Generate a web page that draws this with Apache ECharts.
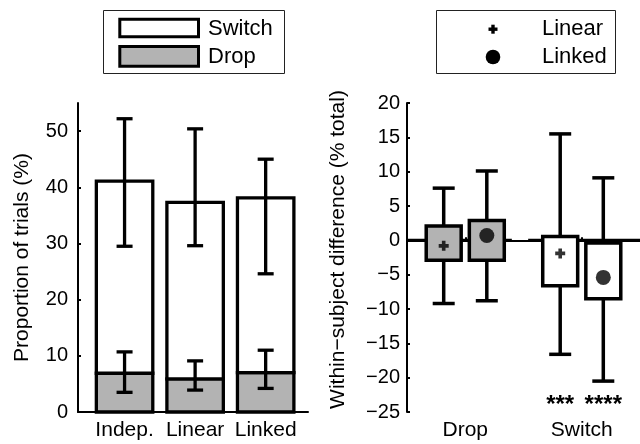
<!DOCTYPE html>
<html>
<head>
<meta charset="utf-8">
<script src="https://cdn.jsdelivr.net/npm/echarts@6/dist/echarts.min.js"></script>
<style>
  html, body { margin: 0; padding: 0; background: #fff; }
  #chart { width: 640px; height: 444px; }
</style>
</head>
<body>
<div id="chart"></div>
<script>
// ---------- Left panel data (proportion of trials, %) ----------
const conditions = ['Indep.', 'Linear', 'Linked'];
const dropMean = [6.9, 5.9, 7.0];
const switchMean = [34.2, 31.4, 31.1];      // stacked on top of drop
const dropErrLow = [3.5, 3.9, 4.2];
const dropErrHigh = [10.7, 9.1, 11.0];
const totalErrLow = [29.5, 29.6, 24.6];
const totalErrHigh = [52.2, 50.4, 45.0];
const leftYTicks = [0, 10, 20, 30, 40, 50];

// ---------- Right panel data (within-subject difference, % total) ----------
const diffGroups = ['Drop', 'Switch'];
const diffModels = ['Linear', 'Linked'];
const linearWhiskerLow = [-9.2, -16.6];
const linearBoxLow = [-2.9, -6.6];
const linearBoxHigh = [2.1, 0.55];
const linearWhiskerHigh = [7.6, 15.5];
const linearMarker = [-0.8, -1.9];
const linkedWhiskerLow = [-8.8, -20.5];
const linkedBoxLow = [-2.9, -8.5];
const linkedBoxHigh = [2.9, -0.4];
const linkedWhiskerHigh = [10.1, 9.1];
const linkedMarker = [0.7, -5.4];
const linearSig = ['', '***'];
const linkedSig = ['', '****'];
const zeroLineSpans = [[0.5, 1.4], [1.54, 2.5]];
const rightYTicks = [-25, -20, -15, -10, -5, 0, 5, 10, 15, 20];

// ---------- styling ----------
const FONT = 'Liberation Sans, Arial, Helvetica, sans-serif';
const GREY = '#b3b3b3';
const BLACK = '#000';
const groupFill = [GREY, '#ffffff'];
const BAR_HALF = 0.4;
const BOX_OFFSET = 0.185;
const BOX_HALF = 0.15;

const chart = echarts.init(document.getElementById('chart'), null, { renderer: 'canvas' });

function barSeries(name, values, base, fill) {
  return {
    name: name,
    type: 'custom',
    xAxisIndex: 0, yAxisIndex: 0,
    encode: { x: 0, y: [1, 2] },
    data: values.map((v, i) => [i + 1, base[i], base[i] + v]),
    renderItem: function (params, api) {
      const x = api.value(0);
      const p0 = api.coord([x - BAR_HALF, api.value(2)]);
      const p1 = api.coord([x + BAR_HALF, api.value(1)]);
      return {
        type: 'rect',
        shape: { x: p0[0], y: p0[1], width: p1[0] - p0[0], height: p1[1] - p0[1] },
        style: { fill: fill, stroke: BLACK, lineWidth: 3.3 }
      };
    },
    z: 2
  };
}

function errSeries(name, lows, highs) {
  return {
    name: name,
    type: 'custom',
    xAxisIndex: 0, yAxisIndex: 0,
    encode: { x: 0, y: [1, 2] },
    data: lows.map((v, i) => [i + 1, v, highs[i]]),
    renderItem: function (params, api) {
      const x = api.value(0);
      const lo = api.coord([x, api.value(1)]);
      const hi = api.coord([x, api.value(2)]);
      const cap = 8;
      const st = { stroke: BLACK, lineWidth: 3.3 };
      return {
        type: 'group',
        children: [
          { type: 'line', shape: { x1: lo[0], y1: lo[1], x2: hi[0], y2: hi[1] }, style: st },
          { type: 'line', shape: { x1: lo[0] - cap, y1: lo[1], x2: lo[0] + cap, y2: lo[1] }, style: st },
          { type: 'line', shape: { x1: hi[0] - cap, y1: hi[1], x2: hi[0] + cap, y2: hi[1] }, style: st }
        ]
      };
    },
    z: 3
  };
}

function boxSeries(name, offset, wLow, bLow, bHigh, wHigh, sig) {
  return {
    name: name,
    type: 'custom',
    xAxisIndex: 1, yAxisIndex: 1,
    encode: { x: 0, y: [1, 2, 3, 4] },
    data: diffGroups.map((g, i) => [i + 1, wLow[i], bLow[i], bHigh[i], wHigh[i], i]),
    renderItem: function (params, api) {
      const x = api.value(0) + offset;
      const gi = api.value(5);
      const wl = api.coord([x, api.value(1)]);
      const wh = api.coord([x, api.value(4)]);
      const b0 = api.coord([x - BOX_HALF, api.value(3)]);
      const b1 = api.coord([x + BOX_HALF, api.value(2)]);
      const cap = 11;
      const st = { stroke: BLACK, lineWidth: 3.5 };
      const children = [
        { type: 'line', shape: { x1: wl[0], y1: wl[1], x2: wh[0], y2: wh[1] }, style: st },
        { type: 'line', shape: { x1: wl[0] - cap, y1: wl[1], x2: wl[0] + cap, y2: wl[1] }, style: st },
        { type: 'line', shape: { x1: wh[0] - cap, y1: wh[1], x2: wh[0] + cap, y2: wh[1] }, style: st },
        { type: 'rect', shape: { x: b0[0], y: b0[1], width: b1[0] - b0[0], height: b1[1] - b0[1] },
          style: { fill: groupFill[gi], stroke: BLACK, lineWidth: 3.5 } }
      ];
      if (sig[gi]) {
        const sp = api.coord([x, -23.3]);
        children.push({
          type: 'text',
          style: { text: sig[gi], x: sp[0], y: sp[1] + 5, align: 'center', verticalAlign: 'middle',
                   fontSize: 24, fontWeight: 'bold', fontFamily: FONT, fill: BLACK }
        });
      }
      return { type: 'group', children: children };
    },
    z: 3
  };
}

const plusPath = 'path://M3.2,0h3.6v3.2h3.2v3.6h-3.2v3.2h-3.6v-3.2h-3.2v-3.6h3.2z';

const option = {
  animation: false,
  backgroundColor: '#fff',
  textStyle: { fontFamily: FONT, color: BLACK },
  grid: [
    { left: 78, top: 103, width: 230, height: 309 },
    { left: 407, top: 103, width: 254, height: 309 }
  ],
  xAxis: [
    {
      gridIndex: 0, type: 'value', min: 0.34, max: 3.6,
      axisLine: { lineStyle: { color: BLACK, width: 2 } },
      axisTick: { show: false },
      splitLine: { show: false },
      axisLabel: {
        customValues: [1, 2, 3], margin: 8, fontSize: 21, color: BLACK, fontFamily: FONT,
        formatter: v => conditions[Math.round(v) - 1] || ''
      }
    },
    {
      gridIndex: 1, type: 'value', min: 0.5, max: 2.5,
      axisLine: { lineStyle: { color: BLACK, width: 2 } },
      axisTick: { customValues: [1, 2], inside: true, length: 3, lineStyle: { color: BLACK, width: 2 } },
      splitLine: { show: false },
      axisLabel: {
        customValues: [1, 2], margin: 8, fontSize: 21, color: BLACK, fontFamily: FONT,
        formatter: v => diffGroups[Math.round(v) - 1] || ''
      }
    }
  ],
  yAxis: [
    {
      gridIndex: 0, type: 'value', min: 0, max: 55,
      name: 'Proportion of trials (%)', nameLocation: 'middle', nameGap: 45,
      nameTextStyle: { fontSize: 21, color: BLACK, fontFamily: FONT },
      axisLine: { show: true, lineStyle: { color: BLACK, width: 2 } },
      axisTick: { customValues: leftYTicks, inside: true, length: 3, lineStyle: { color: BLACK, width: 2 } },
      splitLine: { show: false },
      axisLabel: { customValues: leftYTicks, margin: 10, fontSize: 20, color: BLACK, fontFamily: FONT }
    },
    {
      gridIndex: 1, type: 'value', min: -25, max: 20, interval: 5,
      name: 'Within\u2212subject difference (% total)', nameLocation: 'middle', nameGap: 58,
      nameTextStyle: { fontSize: 21, color: BLACK, fontFamily: FONT, padding: [0, 0, 0, 16] },
      axisLine: { show: true, lineStyle: { color: BLACK, width: 2 } },
      axisTick: { customValues: rightYTicks, inside: true, length: 3, lineStyle: { color: BLACK, width: 2 } },
      splitLine: { show: false },
      axisLabel: {
        customValues: rightYTicks, margin: 7, fontSize: 20, color: BLACK, fontFamily: FONT,
        formatter: v => String(v).replace('-', '\u2212')
      }
    }
  ],
  series: [
    barSeries('Drop', dropMean, [0, 0, 0], GREY),
    barSeries('Switch', switchMean, dropMean, '#ffffff'),
    errSeries('Drop error', dropErrLow, dropErrHigh),
    errSeries('Total error', totalErrLow, totalErrHigh),
    {
      name: 'Zero line',
      type: 'custom',
      xAxisIndex: 1, yAxisIndex: 1,
      data: zeroLineSpans.map(s => [s[0], s[1], 0]),
      renderItem: function (params, api) {
        const a = api.coord([api.value(0), api.value(2)]);
        const b = api.coord([api.value(1), api.value(2)]);
        return { type: 'line', shape: { x1: a[0], y1: a[1], x2: b[0], y2: b[1] },
                 style: { stroke: BLACK, lineWidth: 3.3 } };
      },
      z: 2
    },
    boxSeries('Linear box', -BOX_OFFSET, linearWhiskerLow, linearBoxLow, linearBoxHigh, linearWhiskerHigh, linearSig),
    boxSeries('Linked box', BOX_OFFSET, linkedWhiskerLow, linkedBoxLow, linkedBoxHigh, linkedWhiskerHigh, linkedSig),
    {
      name: diffModels[0],
      type: 'scatter',
      xAxisIndex: 1, yAxisIndex: 1,
      symbol: plusPath, symbolSize: 10,
      itemStyle: { color: BLACK },
      data: diffGroups.map((g, i) => [i + 1 - BOX_OFFSET, linearMarker[i]]),
      z: 5
    },
    {
      name: diffModels[1],
      type: 'scatter',
      xAxisIndex: 1, yAxisIndex: 1,
      symbol: 'circle', symbolSize: 15,
      itemStyle: { color: BLACK },
      data: diffGroups.map((g, i) => [i + 1 + BOX_OFFSET, linkedMarker[i]]),
      z: 5
    }
  ],
  graphic: [
    // Left legend
    { type: 'rect', shape: { x: 103.5, y: 10.5, width: 181, height: 63 },
      style: { fill: '#fff', stroke: '#222', lineWidth: 1 }, z: 10 },
    { type: 'rect', shape: { x: 119.8, y: 19.2, width: 78.7, height: 17.6 },
      style: { fill: '#fff', stroke: BLACK, lineWidth: 3 }, z: 11 },
    { type: 'rect', shape: { x: 119.8, y: 46.5, width: 78.7, height: 19.7 },
      style: { fill: GREY, stroke: BLACK, lineWidth: 3 }, z: 11 },
    { type: 'text', style: { text: 'Switch', x: 208, y: 29, verticalAlign: 'middle',
      fontSize: 22, fontFamily: FONT, fill: BLACK }, z: 11 },
    { type: 'text', style: { text: 'Drop', x: 208, y: 57, verticalAlign: 'middle',
      fontSize: 22, fontFamily: FONT, fill: BLACK }, z: 11 },
    // Right legend
    { type: 'rect', shape: { x: 436.5, y: 10.5, width: 179, height: 63 },
      style: { fill: '#fff', stroke: '#222', lineWidth: 1 }, z: 10 },
    { type: 'rect', shape: { x: 488.5, y: 27.5, width: 9, height: 3.4 }, style: { fill: BLACK }, z: 11 },
    { type: 'rect', shape: { x: 491.3, y: 24.7, width: 3.4, height: 9 }, style: { fill: BLACK }, z: 11 },
    { type: 'circle', shape: { cx: 493, cy: 57, r: 7.3 }, style: { fill: BLACK }, z: 11 },
    { type: 'text', style: { text: 'Linear', x: 542, y: 29, verticalAlign: 'middle',
      fontSize: 22, fontFamily: FONT, fill: BLACK }, z: 11 },
    { type: 'text', style: { text: 'Linked', x: 542, y: 57, verticalAlign: 'middle',
      fontSize: 22, fontFamily: FONT, fill: BLACK }, z: 11 }
  ]
};

chart.setOption(option);
</script>
</body>
</html>
